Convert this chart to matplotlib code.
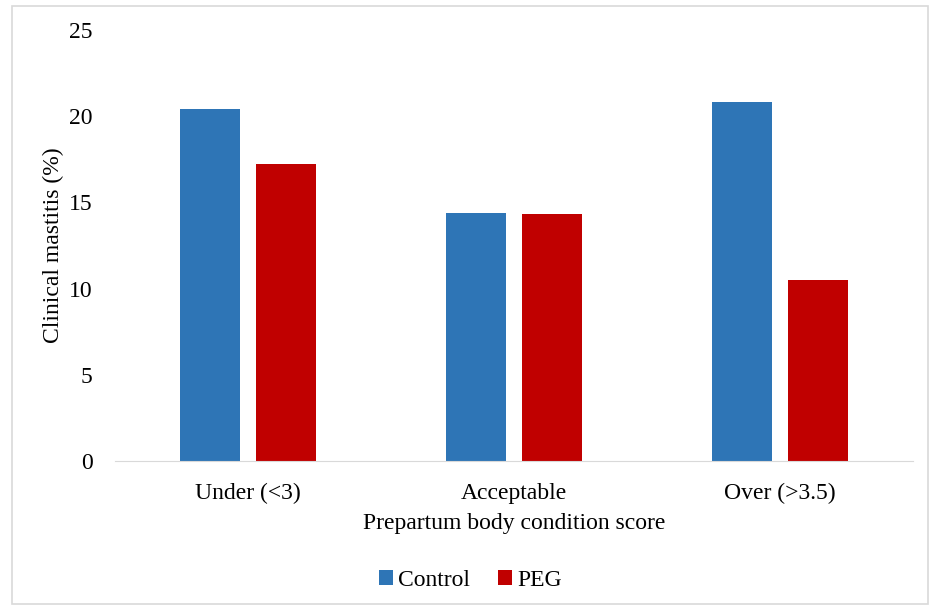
import matplotlib.pyplot as plt
import numpy as np
from matplotlib.patches import Rectangle

categories = ["Under (<3)", "Acceptable", "Over (>3.5)"]
control = [20.4, 14.4, 20.8]
peg = [17.2, 14.3, 10.5]

plt.rcParams['font.family'] = ['Liberation Serif', 'DejaVu Serif']

fig = plt.figure(figsize=(9.31, 6.08), dpi=100)
ax = fig.add_axes([0.1235, 0.2418, 0.857, 0.709])

x = np.arange(len(categories))
w = 0.225
ax.bar(x - 0.143, control, w, color='#2E75B6', label='Control')
ax.bar(x + 0.143, peg, w, color='#C00000', label='PEG')

ax.set_xlim(-0.5, 2.5)
ax.set_ylim(0, 25)
ax.set_yticks([0, 5, 10, 15, 20, 25])
ax.set_xticks(x)
ax.set_xticklabels(categories)
ax.tick_params(axis='both', length=0, labelsize=17, colors='black')
ax.tick_params(axis='y', pad=16)
ax.tick_params(axis='x', pad=16)

for s in ['top', 'right', 'left']:
    ax.spines[s].set_visible(False)
ax.spines['bottom'].set_color('#d9d9d9')

ax.set_ylabel('Clinical mastitis (%)', fontsize=17, labelpad=4)
ax.set_xlabel('Prepartum body condition score', fontsize=17, labelpad=6)

fig.legend(loc='center', bbox_to_anchor=(0.505, 0.046), ncol=2, frameon=False,
           fontsize=17, handlelength=0.6, handleheight=0.6, handletextpad=0.2,
           columnspacing=1.2)

fig.patches.append(Rectangle((0.013, 0.007), 0.984, 0.983, transform=fig.transFigure,
                             fill=False, edgecolor='#d9d9d9', linewidth=1.2))

plt.savefig("out.png", dpi=100)
